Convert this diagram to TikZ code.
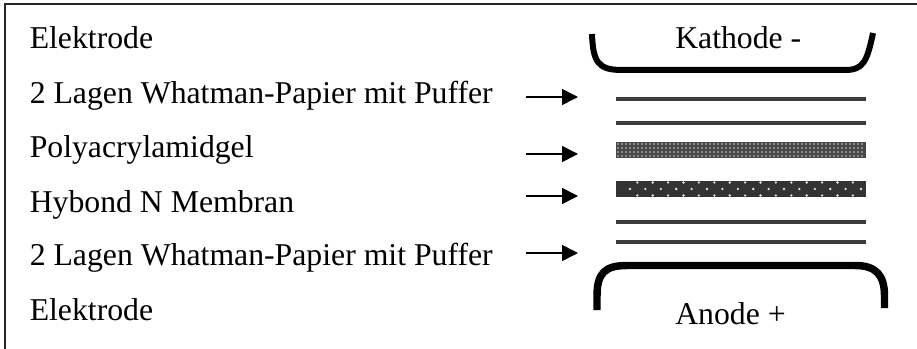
\documentclass[tikz,border=0pt]{standalone}
\usepackage{fontspec}
\setmainfont{Liberation Serif}
\usetikzlibrary{arrows.meta}
\definecolor{layergray}{HTML}{3C3C3C}
\definecolor{bandgray}{HTML}{333333}
\begin{document}
\begin{tikzpicture}[x=0.75pt,y=-0.75pt,
  lbl/.style={anchor=base west,inner sep=0pt,font=\fontsize{23.8}{28}\selectfont},
  arr/.style={line width=1.2pt,-{Triangle[length=12pt,width=12pt]}},
  layer/.style={line width=3pt,draw=layergray},
  bracket/.style={draw=black,line cap=butt},
  frame/.style={line width=1.4pt,draw=black!85}]
\useasboundingbox (0,0) rectangle (917,349);
% frame (top and left only visible)
\draw[frame] (5.3,349) -- (5.3,4.3) -- (917,4.3);
% left labels
\node[lbl] (l1) at (29.5,49) {Elektrode};
\node[lbl] (l2) at (29.5,104) {2 Lagen Whatman-Papier mit Puffer};
\node[lbl] (l3) at (29.5,158) {Polyacrylamidgel};
\node[lbl] (l4) at (29.5,212) {Hybond N Membran};
\node[lbl] (l5) at (29.5,265) {2 Lagen Whatman-Papier mit Puffer};
\node[lbl] (l6) at (29.5,320) {Elektrode};
% arrows
\coordinate (a1s) at (526,97);  \coordinate (a1e) at (578,97);
\coordinate (a2s) at (526,154); \coordinate (a2e) at (578,154);
\coordinate (a3s) at (526,196); \coordinate (a3e) at (578,196);
\coordinate (a4s) at (526,253); \coordinate (a4e) at (578,253);
\draw[arr] (a1s) -- (a1e);
\draw[arr] (a2s) -- (a2e);
\draw[arr] (a3s) -- (a3e);
\draw[arr] (a4s) -- (a4e);
% Kathode bracket
\draw[bracket,line width=4.5pt] (592,34) .. controls (593,62) and (598,70) .. (622,70) -- (845,70) .. controls (863,70) and (867,62) .. (873,33);
\node[lbl] (kath) at (675,49) {Kathode -};
% Whatman layers top
\draw[layer] (616,99) -- (866,99);
\draw[layer] (616,123) -- (866,123);
% Polyacrylamide gel band
\fill[black!72] (616,142) rectangle (866,158);
\foreach \i in {0,...,61} {
  \foreach \j in {0,...,3} {
    \fill[white!80!black] (618+\i*4,144+\j*4) circle (0.8);
  }
}
% Hybond N membrane band
\fill[bandgray] (616,181) rectangle (866,197);
\foreach \i in {0,...,14} {
  \fill[white!90!black] (637.3+\i*15.4,182.5) circle (1.3);
  \fill[white!90!black] (637.3+\i*15.4,195.5) circle (1.3);
}
\foreach \i in {0,...,15} {
  \fill[white!90!black] (630+\i*15.4,189) circle (1.3);
}
% Whatman layers bottom
\draw[layer] (616,222) -- (866,222);
\draw[layer] (616,242) -- (866,242);
% Anode bracket
\draw[bracket,line width=5.6pt] (597,310) -- (597,296) .. controls (597,273) and (605,265.5) .. (627,265.5) -- (855,265.5) .. controls (876,265.5) and (884.5,275) .. (884.5,296) -- (884.5,308);
\node[lbl] (anode) at (675,324) {Anode +};
\end{tikzpicture}
\end{document}
